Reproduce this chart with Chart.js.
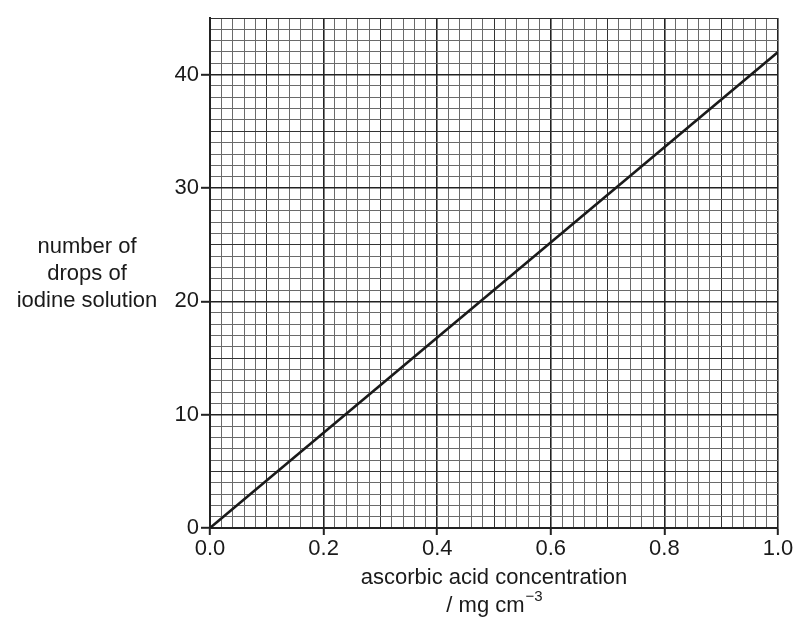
<!DOCTYPE html>
<html>
<head>
<meta charset="utf-8">
<script src="https://cdn.jsdelivr.net/npm/chart.js@4/dist/chart.umd.min.js"></script>
<style>
  html, body { margin: 0; padding: 0; background: #fff; }
  #wrap { width: 799px; height: 624px; }
</style>
</head>
<body>
<div id="wrap"><canvas id="grafico"></canvas></div>
<script>
// dados
const concentracao = [0.0, 1.0];      // mg cm-3
const gotas = [0, 42];                // número de gotas
const xTicksMaiores = [0.0, 0.2, 0.4, 0.6, 0.8, 1.0];
const yTicksMaiores = [0, 10, 20, 30, 40];

const tituloY = ['number of', 'drops of', 'iodine solution'];
const tituloX = ['ascorbic acid concentration', '/ mg cm', '\u22123'];

const familia = '"Liberation Sans", Arial, sans-serif';
const fonte = { family: familia, size: 22 };

function eMaior(v, lista) {
  return lista.some(t => Math.abs(t - v) < 1e-6);
}

// escreve os títulos dos eixos na horizontal
const titulos = {
  id: 'titulos',
  afterDraw(chart) {
    const ctx = chart.ctx;
    const area = chart.chartArea;
    ctx.save();
    ctx.fillStyle = '#1a1a1a';
    ctx.font = '22px ' + familia;
    ctx.textAlign = 'center';
    ctx.textBaseline = 'middle';
    tituloY.forEach((t, i) => ctx.fillText(t, 87, 247 + i * 27));
    const cx = (area.left + area.right) / 2;
    ctx.fillText(tituloX[0], cx, 578);
    // unidade com expoente
    const wBase = ctx.measureText(tituloX[1]).width;
    ctx.font = '15px ' + familia;
    const wExp = ctx.measureText(tituloX[2]).width;
    const x0 = cx - (wBase + wExp) / 2;
    ctx.textAlign = 'left';
    ctx.font = '22px ' + familia;
    ctx.fillText(tituloX[1], x0, 606);
    ctx.font = '15px ' + familia;
    ctx.fillText(tituloX[2], x0 + wBase + 1, 597);
    ctx.restore();
  }
};

const pontos = concentracao.map((x, i) => ({ x: x, y: gotas[i] }));

new Chart(document.getElementById('grafico'), {
  type: 'scatter',
  data: {
    datasets: [{
      data: pontos,
      showLine: true,
      borderColor: '#1a1a1a',
      borderWidth: 2.5,
      pointRadius: 0,
      fill: false
    }]
  },
  options: {
    responsive: true,
    maintainAspectRatio: false,
    animation: false,
    layout: { padding: { top: 18, right: 21, left: 0, bottom: 0 } },
    plugins: { legend: { display: false }, tooltip: { enabled: false } },
    scales: {
      x: {
        type: 'linear',
        min: 0, max: 1,
        afterFit: s => { s.height = 96; },
        ticks: {
          stepSize: 0.02,
          autoSkip: false,
          maxRotation: 0,
          color: '#1a1a1a',
          font: fonte,
          padding: 1,
          callback: v => eMaior(v, xTicksMaiores) ? v.toFixed(1) : ''
        },
        grid: {
          color: c => {
            const v = c.tick.value;
            if (eMaior(v, xTicksMaiores)) return '#222';
            if (Math.abs(Math.round(v * 10) - v * 10) < 1e-6) return '#333';
            return '#6a6a6a';
          },
          lineWidth: c => eMaior(c.tick.value, xTicksMaiores) ? 1.6 : 1,
          drawTicks: true,
          tickLength: 7,
          tickWidth: 2,
          tickColor: c => eMaior(c.tick.value, xTicksMaiores) ? '#222' : 'rgba(0,0,0,0)'
        },
        border: { color: '#222', width: 2 }
      },
      y: {
        min: 0, max: 45,
        afterFit: s => { s.width = 210; },
        ticks: {
          stepSize: 1,
          autoSkip: false,
          color: '#1a1a1a',
          font: fonte,
          padding: 2,
          callback: v => eMaior(v, yTicksMaiores) ? String(v) : ''
        },
        grid: {
          color: c => {
            const v = c.tick.value;
            if (eMaior(v, yTicksMaiores)) return '#222';
            if (v % 5 === 0) return '#333';
            return '#6a6a6a';
          },
          lineWidth: c => eMaior(c.tick.value, yTicksMaiores) ? 1.6 : 1,
          drawTicks: true,
          tickLength: 9,
          tickWidth: 2,
          tickColor: c => eMaior(c.tick.value, yTicksMaiores) ? '#222' : 'rgba(0,0,0,0)'
        },
        border: { color: '#222', width: 2 }
      }
    }
  },
  plugins: [titulos]
});
</script>
</body>
</html>
